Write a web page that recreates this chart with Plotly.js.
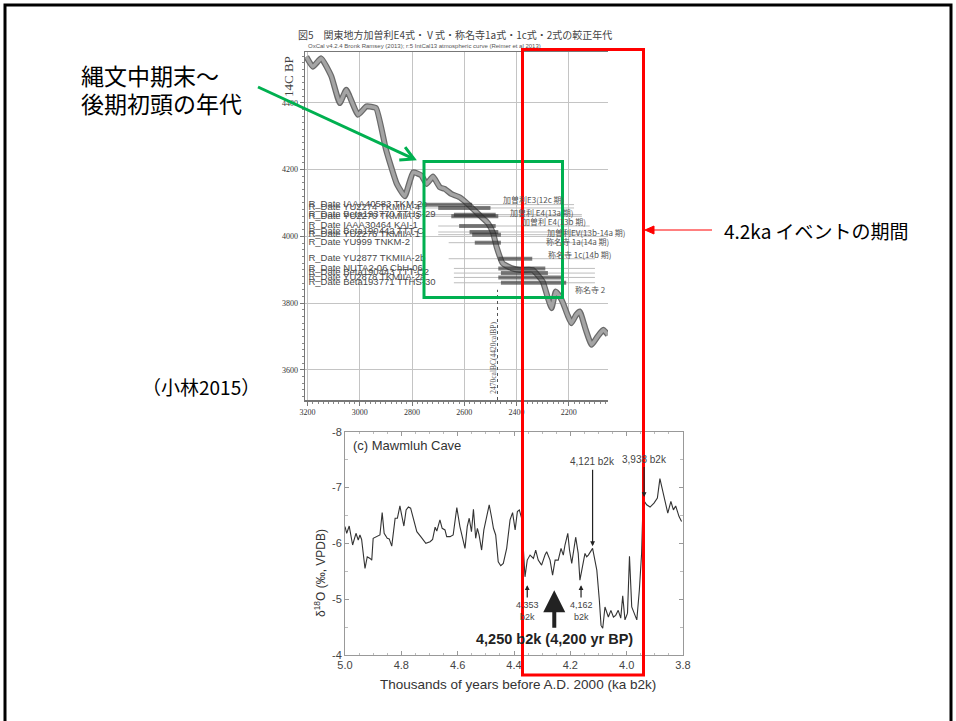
<!DOCTYPE html>
<html><head><meta charset="utf-8">
<script src="https://cdn.plot.ly/plotly-3.0.1.min.js"></script>
<style>html,body{margin:0;padding:0;background:#fff}#g{width:956px;height:721px}</style>
</head><body><div id="g"></div>
<script>
// ---- Top chart: IntCal13 calibration curve (cal BC vs 14C BP) ----
const curveCalBC = [3205,3180,3148,3109,3077,3052,3007,2975,2938,2900,2860,2828,2796,2764,2745,2720,2694,2675,2650,2618,2580,2540,2510,2490,2476,2453,2420,2388,2338,2300,2280,2266,2250,2235,2222,2205,2190,2172,2158,2135,2113,2090,2068,2050];
const curveBP    = [4538,4508,4533,4479,4399,4439,4364,4389,4384,4260,4160,4120,4192,4182,4157,4179,4147,4142,4127,4117,4092,4062,4040,4010,3967,3919,3905,3899,3899,3865,3815,3785,3835,3820,3800,3765,3740,3765,3775,3720,3675,3700,3720,3705];

const dateNames = ["R_Date IAAA40583 TKM-2c","R_Date YU2274 TKMIIA-4","R_Date Beta193770 TTHS-29","R_Date YU2270 TKMIIA-3","R_Date IAAA30464 KAI-1","R_Date Beta190442 TTT-C","R_Date YU2276 TKMIIA-1","R_Date YU999 TNKM-2","R_Date YU2877 TKMIIA-2b","R_Date NUTA2-06 ChH-06","R_Date Beta190443 TTT-C2","R_Date YU2878 TKMIIA-2a","R_Date Beta193771 TTHS-30"];
const dateBP    = [4095,4085,4065,4060,4031,4013,4005,3981,3933,3904,3890,3877,3861];
const dateFrom  = [2760,2700,2640,2650,2620,2580,2570,2560,2470,2470,2460,2470,2460];
const dateTo    = [2570,2500,2480,2470,2480,2470,2460,2460,2340,2290,2280,2220,2210];
const spanFrom  = [2790,2790,2760,2760,2700,2700,2700,2660,2660,2640,2640,2640,2640];
const spanTo    = [2180,2180,2150,2150,2120,2120,2120,2120,2100,2100,2100,2100,2100];

const phaseLabels = ["加曽利E3(12c 期)","加曽利 E4(13a 期)","加曽利 E4(13b 期)","加曽利EV(13b-14a 期)","称名寺 1a(14a 期)","称名寺 1c(14b 期)","称名寺 2"];
const phaseCal    = [2458,2433,2388,2292,2295,2288,2184];
const phaseBP     = [4110,4070,4043,4011,3986,3946,3842];

const markerCal = [2473,2473];
const markerBP  = [3510,3840];

const topXTicks = [3200,3000,2800,2600,2400,2200];
const topYTicks = [3600,3800,4000,4200,4400];

// ---- Bottom chart: Mawmluh Cave d18O ----
const kaB2k = [5.0,4.994,4.985,4.973,4.961,4.953,4.947,4.941,4.929,4.921,4.911,4.905,4.9,4.888,4.876,4.868,4.861,4.85,4.843,4.834,4.822,4.814,4.805,4.799,4.791,4.783,4.775,4.767,4.757,4.745,4.731,4.713,4.698,4.689,4.68,4.674,4.663,4.655,4.645,4.639,4.627,4.616,4.603,4.592,4.574,4.566,4.559,4.551,4.544,4.536,4.53,4.524,4.515,4.507,4.497,4.488,4.479,4.473,4.465,4.456,4.447,4.438,4.426,4.414,4.405,4.396,4.388,4.381,4.373,4.361,4.353,4.343,4.331,4.323,4.314,4.302,4.29,4.284,4.272,4.263,4.254,4.243,4.233,4.225,4.219,4.209,4.203,4.195,4.181,4.172,4.166,4.156,4.148,4.142,4.136,4.121,4.112,4.106,4.097,4.091,4.085,4.077,4.065,4.056,4.047,4.039,4.03,4.021,4.014,4.006,3.997,3.99,3.982,3.975,3.964,3.955,3.947,3.943,3.941,3.929,3.917,3.903,3.891,3.882,3.87,3.854,3.843,3.834,3.826,3.814,3.805];
const d18O  = [-6.30,-6.18,-6.31,-5.97,-6.18,-6.06,-6.15,-6.07,-5.55,-5.76,-5.73,-5.70,-6.09,-6.12,-6.15,-6.55,-6.18,-6.09,-6.08,-5.95,-6.45,-6.45,-6.67,-6.51,-6.31,-6.60,-6.65,-6.63,-6.42,-6.21,-6.12,-6.00,-6.03,-6.07,-6.29,-6.22,-6.42,-6.27,-6.24,-6.12,-6.12,-6.15,-6.64,-6.30,-5.91,-6.30,-6.45,-6.21,-6.61,-6.09,-6.27,-6.15,-5.88,-6.24,-6.48,-6.69,-6.45,-6.27,-6.15,-5.67,-5.60,-5.64,-5.91,-6.42,-6.55,-6.24,-6.57,-6.60,-6.45,-5.40,-5.70,-5.79,-5.73,-5.88,-5.70,-5.61,-5.79,-5.85,-5.70,-5.43,-5.70,-5.70,-5.91,-5.79,-5.97,-6.18,-5.88,-5.64,-6.11,-5.82,-5.34,-5.64,-5.82,-5.76,-5.79,-5.91,-5.64,-5.52,-4.98,-4.53,-4.48,-4.86,-4.68,-4.80,-4.68,-4.71,-4.80,-4.66,-5.06,-4.63,-4.75,-5.77,-4.86,-4.77,-4.63,-5.16,-5.82,-6.54,-6.78,-6.69,-6.65,-6.72,-6.81,-7.16,-6.87,-6.54,-6.75,-6.60,-6.67,-6.48,-6.39];

const eventKa   = [4.121,3.938,4.353,4.162,4.257];
const eventText = ["4,121 b2k","3,938 b2k","4,353<br>b2k","4,162<br>b2k","<b>4,250 b2k (4,200 yr BP)</b>"];
const eventTip  = [-5.95,-6.83,-5.25,-5.25,-5.16];
const eventLab  = [-7.46,-7.51,-4.79,-4.79,-4.28];

// ---- build ----
const W = 956, H = 721;
const PX = p => p / W, PY = p => 1 - p / H;
const serif = "Liberation Serif, DejaVu Serif, serif";
const sans = "Liberation Sans, Arial, sans-serif";
const jp = "Noto Sans CJK JP, sans-serif";

const traces = [];
dateBP.forEach((bp, i) => traces.push({x:[spanFrom[i], spanTo[i]], y:[bp,bp], xaxis:'x', yaxis:'y', mode:'lines', line:{color:'#bdbdbd', width:1}, hoverinfo:'skip', showlegend:false}));
traces.push({x:curveCalBC, y:curveBP, xaxis:'x', yaxis:'y', mode:'lines', line:{color:'#6a6a6a', width:6, shape:'spline', smoothing:0.4}, showlegend:false});
traces.push({x:curveCalBC, y:curveBP, xaxis:'x', yaxis:'y', mode:'lines', line:{color:'#a4a4a4', width:3.5, shape:'spline', smoothing:0.4}, showlegend:false});
dateBP.forEach((bp, i) => traces.push({x:[dateFrom[i], dateTo[i]], y:[bp,bp], xaxis:'x', yaxis:'y', mode:'lines', line:{color:'rgba(40,40,40,0.6)', width:4}, hoverinfo:'skip', showlegend:false}));
traces.push({x:dateBP.map(() => 3197), y:dateBP, text:dateNames, mode:'text', textposition:'middle right', textfont:{family:sans, size:9.5, color:'#4a4a4a'}, xaxis:'x', yaxis:'y', showlegend:false, cliponaxis:false});
traces.push({x:markerCal, y:markerBP, xaxis:'x', yaxis:'y', mode:'lines', line:{color:'#555', width:1, dash:'dot'}, showlegend:false});
traces.push({x:kaB2k, y:d18O, xaxis:'x2', yaxis:'y2', mode:'lines', line:{color:'#333', width:1.1}, showlegend:false});

const ann = [];
const A = (o) => ann.push(Object.assign({showarrow:false, xanchor:'center', yanchor:'middle'}, o));
A({xref:'paper', yref:'paper', x:PX(455), y:PY(35), text:'図5　関東地方加曽利E4式・Ⅴ式・称名寺1a式・1c式・2式の較正年代', font:{family:jp, size:10, color:'#444'}});
A({xref:'paper', yref:'paper', x:PX(306), y:PY(46), xanchor:'left', text:'OxCal v4.2.4 Bronk Ramsey (2013); r:5 IntCal13 atmospheric curve (Reimer et al 2013)', font:{family:sans, size:6, color:'#555'}});
A({xref:'paper', yref:'paper', x:PX(289), y:PY(77), text:'14C BP', textangle:-90, font:{family:serif, size:13, color:'#444'}});
phaseLabels.forEach((t, i) => A({xref:'x', yref:'y', x:phaseCal[i], y:phaseBP[i], xanchor:'left', text:t, font:{family:jp, size:8, color:'#555'}}));
A({xref:'x', yref:'y', x:2487, y:3636, text:'2470calBC(4420calBP)', textangle:-90, font:{family:serif, size:7.5, color:'#555'}});
A({xref:'paper', yref:'paper', x:PX(79), y:PY(75), xanchor:'left', text:'縄文中期末～', font:{family:jp, size:23, color:'#000'}});
A({xref:'paper', yref:'paper', x:PX(79), y:PY(103), xanchor:'left', text:'後期初頭の年代', font:{family:jp, size:23, color:'#000'}});
A({xref:'paper', yref:'paper', x:PX(140), y:PY(386), xanchor:'left', text:'（小林2015）', font:{family:jp, size:19, color:'#000'}});
A({xref:'paper', yref:'paper', x:PX(722), y:PY(230), xanchor:'left', text:'4.2ka イベントの期間', font:{family:jp, size:19, color:'#000'}});
A({xref:'paper', yref:'paper', x:PX(351), y:PY(446), xanchor:'left', text:'(c) Mawmluh Cave', font:{family:sans, size:13, color:'#333'}});
A({xref:'paper', yref:'paper', x:PX(320), y:PY(573), text:'δ<sup>18</sup>O (‰, VPDB)', textangle:-90, font:{family:sans, size:12, color:'#333'}});
A({xref:'paper', yref:'paper', x:PX(518), y:PY(684), text:'Thousands of years before A.D. 2000 (ka b2k)', font:{family:sans, size:13.5, color:'#333'}});
eventKa.forEach((k, i) => {
  const big = i === 4;
  ann.push({xref:'x2', yref:'y2', axref:'x2', ayref:'y2', x:k, y:eventTip[i], ax:k, ay:eventLab[i], text:eventText[i], showarrow:true,
    arrowhead:2, arrowsize:big ? 1.1 : 0.8, arrowwidth:big ? 4 : 1.2, arrowcolor:'#222', standoff:0, startstandoff:big ? 2 : 1,
    font:{family:sans, size:big ? 14.5 : (i < 2 ? 10 : 9), color:big ? '#222' : '#444'}});
});

const shapes = [];
shapes.push({type:'rect', xref:'paper', yref:'paper', x0:PX(5), x1:PX(951), y0:PY(730), y1:PY(5), line:{color:'#000', width:3}});
shapes.push({type:'rect', xref:'paper', yref:'paper', x0:PX(424), x1:PX(562.5), y0:PY(297.5), y1:PY(161.5), line:{color:'#00b050', width:3}});
shapes.push({type:'rect', xref:'paper', yref:'paper', x0:PX(522.5), x1:PX(643.5), y0:PY(675), y1:PY(49.5), line:{color:'#ff0000', width:3}});
const gt = [414,159], gs = [258,87];
const ux = (gt[0]-gs[0]), uy = (gt[1]-gs[1]), ul = Math.hypot(ux, uy);
const ex = ux/ul, ey = uy/ul, hl = 13, hw = 7;
const bc = [gt[0]-hl*ex, gt[1]-hl*ey];
const b1 = [bc[0]-hw*ey, bc[1]+hw*ex], b2 = [bc[0]+hw*ey, bc[1]-hw*ex];
shapes.push({type:'line', xref:'paper', yref:'paper', x0:PX(gs[0]), y0:PY(gs[1]), x1:PX(gt[0]-1.5*ex), y1:PY(gt[1]-1.5*ey), line:{color:'#00b050', width:3}});
shapes.push({type:'path', xref:'paper', yref:'paper', path:`M${PX(b1[0])},${PY(b1[1])} L${PX(gt[0])},${PY(gt[1])} L${PX(b2[0])},${PY(b2[1])}`, line:{color:'#00b050', width:3}});
shapes.push({type:'line', xref:'paper', yref:'paper', x0:PX(712), y0:PY(230), x1:PX(650), y1:PY(230), line:{color:'#ff0000', width:1}});
shapes.push({type:'path', xref:'paper', yref:'paper', path:`M${PX(645)},${PY(230)} L${PX(654)},${PY(226)} L${PX(654)},${PY(234)} Z`, fillcolor:'#ff0000', line:{color:'#ff0000', width:1}});

const layout = {
  width:W, height:H, margin:{l:0, r:0, t:0, b:0}, paper_bgcolor:'#fff', plot_bgcolor:'rgba(0,0,0,0)', showlegend:false,
  xaxis:{domain:[PX(305), PX(608)], range:[3210, 2050], anchor:'y', tickvals:topXTicks, ticks:'outside', ticklen:4, tickcolor:'#777',
    showgrid:true, gridcolor:'#c4c4c4', gridwidth:1, showline:true, linecolor:'#777', linewidth:1.5, mirror:true, zeroline:false,
    tickfont:{family:serif, size:8, color:'#333'}, minor:{ticks:'outside', ticklen:2, dtick:20, tickcolor:'#888', showgrid:false}},
  yaxis:{domain:[PY(400), PY(52)], range:[3510, 4552], anchor:'x', tickvals:topYTicks, ticks:'outside', ticklen:4, tickcolor:'#777',
    showgrid:true, gridcolor:'#c4c4c4', gridwidth:1, showline:true, linecolor:'#777', linewidth:1.5, zeroline:false,
    tickfont:{family:serif, size:8, color:'#333'}, minor:{ticks:'outside', ticklen:2, dtick:20, tickcolor:'#888', showgrid:false}},
  xaxis2:{domain:[PX(345), PX(683)], range:[5.0, 3.8], anchor:'y2', dtick:0.2, tick0:0, tickformat:'.1f', ticks:'inside', ticklen:4, tickcolor:'#999',
    showgrid:false, showline:true, linecolor:'#999', linewidth:1, mirror:'ticks', zeroline:false,
    tickfont:{family:sans, size:11, color:'#444'}, minor:{ticks:'inside', ticklen:2, dtick:0.05, tickcolor:'#bbb'}},
  yaxis2:{domain:[PY(655), PY(431.7)], range:[-4, -8], anchor:'x2', ticks:'inside', ticklen:4, tickcolor:'#999',
    tickvals:[-8,-7,-6,-5,-4], ticktext:['-8','-7','-6','-5','-4'],
    showgrid:false, showline:true, linecolor:'#999', linewidth:1, mirror:'ticks', zeroline:false,
    tickfont:{family:sans, size:11, color:'#444'}, minor:{ticks:'inside', ticklen:3, dtick:0.5, tickcolor:'#bbb'}},
  annotations:ann, shapes:shapes
};
Plotly.newPlot('g', traces, layout, {staticPlot:true, displayModeBar:false});
</script></body></html>
